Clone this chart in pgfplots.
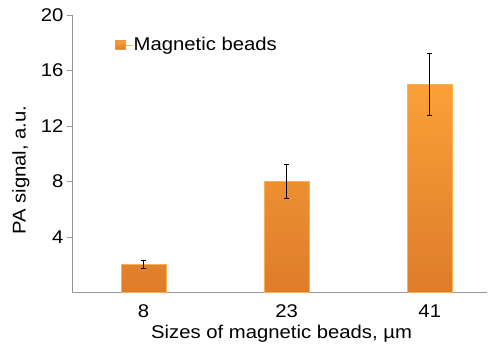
\documentclass[border=0pt]{standalone}
\usepackage{fontspec}
\setmainfont{Liberation Sans}[FakeStretch=1.1]
\usepackage{pgfplots}
\pgfplotsset{compat=1.18}
\definecolor{barTop}{RGB}{251,160,55}
\definecolor{barBot}{RGB}{222,124,42}
\definecolor{axgray}{RGB}{150,150,150}
\begin{document}
\begin{tikzpicture}
\useasboundingbox (-72bp,-54.5bp) rectangle (417bp,292.5bp);
\begin{axis}[
  at={(0,0)}, anchor=south west,
  scale only axis, width=415bp, height=277.5bp,
  font=\fontsize{18.5}{21}\selectfont,
  /pgf/number format/assume math mode=true,
  axis lines*=left,
  axis line style={axgray, line width=0.8bp},
  xmin=-0.5, xmax=2.4, ymin=0, ymax=20,
  xtick={0,1,2}, xticklabels={8,23,41},
  x tick style={draw=none},
  ytick={4,8,12,16,20},
  y tick style={axgray, line width=0.8bp},
  tick align=outside, major tick length=5bp,
  xticklabel style={yshift=-4bp},
  xlabel={Sizes of magnetic beads, µm},
  ylabel={PA signal, a.u.},
  ylabel style={at={(axis description cs:-0.123,0.441)}, anchor=center},
  xlabel style={at={(axis description cs:0.505,0)}, anchor=center, yshift=-41bp},
  ybar, bar width=45bp,
  legend style={at={(axis description cs:0.1036,0.892)}, anchor=west, draw=none, fill=none,
    font=\fontsize{18.5}{21}\selectfont, inner sep=0pt, nodes={inner sep=0pt}},
  legend image code/.code={\path (0bp,0bp) -- (18bp,0bp); \fill[barTop, draw=barBot!80] (0bp,-4.5bp) rectangle (10bp,4.5bp);},
]
\addplot[top color=barTop, bottom color=barBot, draw=barTop!85!white, line width=0.5bp,
  error bars/.cd, y dir=both, y explicit,
  error bar style={black, line width=1bp},
  error mark options={black, rotate=90, mark size=2.5bp, line width=1bp}]
  coordinates {(0,2) +- (0,0.3) (1,8) +- (0,1.2) (2,15) +- (0,2.25)};
\addlegendentry{Magnetic beads}
\end{axis}
\end{tikzpicture}
\end{document}
